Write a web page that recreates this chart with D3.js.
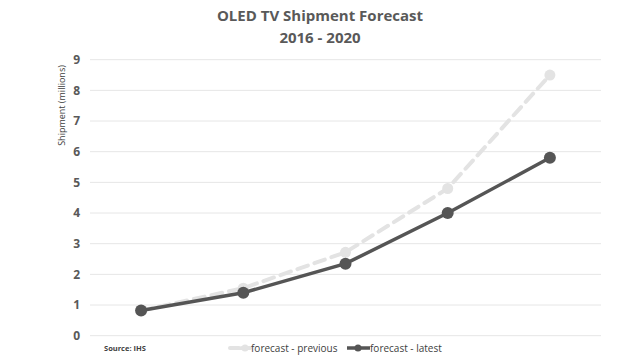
<!DOCTYPE html>
<html><head><meta charset="utf-8">
<script src="https://cdn.jsdelivr.net/npm/d3@7"></script>
<style>body{margin:0;background:#fff}svg{display:block}</style>
</head><body><svg id="c" width="640" height="360"></svg>
<script>
const years = ["2016","2017","2018","2019","2020"];
const previous = [0.82, 1.55, 2.72, 4.8, 8.5];
const latest = [0.82, 1.4, 2.35, 4.0, 5.8];
const yTicks = [0,1,2,3,4,5,6,7,8,9];

const svg = d3.select("#c");
const font = "'Open Sans', sans-serif";
const L = 90, R = 601, T = 59.7, B = 335.7;
const x = d3.scaleBand().domain(years).range([L, R]).padding(0);
const y = d3.scaleLinear().domain([0, 9]).range([B, T]);
const cx = d => x(d) + x.bandwidth()/2;

svg.append("g").selectAll("line").data(yTicks).join("line")
  .attr("x1", L).attr("x2", R).attr("y1", d => y(d)).attr("y2", d => y(d))
  .attr("stroke", "#e6e6e6").attr("stroke-width", 1);

const yAxis = d3.axisLeft(y).tickValues(yTicks).tickSize(0).tickPadding(10);
const ga = svg.append("g").attr("transform", `translate(${L},0)`).call(yAxis);
ga.select(".domain").remove();
ga.selectAll("text").attr("font-family", font).attr("font-size", 12).attr("font-weight", "bold").attr("fill", "#595959");

svg.append("text").attr("transform", `translate(65,${(63+148)/2}) rotate(-90)`)
  .attr("text-anchor", "middle").attr("font-family", font).attr("font-size", 9).attr("fill", "#404040")
  .text("Shipment (millions)");

svg.append("text").attr("x", 320).attr("y", 21).attr("text-anchor", "middle")
  .attr("font-family", font).attr("font-size", 15).attr("font-weight", "bold").attr("fill", "#595959")
  .text("OLED TV Shipment Forecast");
svg.append("text").attr("x", 320).attr("y", 43).attr("text-anchor", "middle")
  .attr("font-family", font).attr("font-size", 15).attr("font-weight", "bold").attr("fill", "#595959")
  .text("2016 - 2020");

const line = d3.line().x((d,i) => cx(years[i])).y(d => y(d));
const prevColor = "#e3e3e3", latColor = "#555555";

svg.append("path").datum(previous).attr("d", line).attr("fill", "none")
  .attr("stroke", prevColor).attr("stroke-width", 4).attr("stroke-dasharray", "11,7").attr("stroke-linecap","round");
svg.append("g").selectAll("circle").data(previous).join("circle")
  .attr("cx", (d,i) => cx(years[i])).attr("cy", d => y(d)).attr("r", 5.5).attr("fill", prevColor);

svg.append("path").datum(latest).attr("d", line).attr("fill", "none")
  .attr("stroke", latColor).attr("stroke-width", 3.5);
svg.append("g").selectAll("circle").data(latest).join("circle")
  .attr("cx", (d,i) => cx(years[i])).attr("cy", d => y(d)).attr("r", 6).attr("fill", latColor);

svg.append("text").attr("x", 104).attr("y", 351).attr("font-family", font).attr("font-size", 7.5)
  .attr("font-weight", "bold").attr("fill", "#404040").text("Source: IHS");

// legend
const lg = svg.append("g");
lg.append("line").attr("x1", 230).attr("x2", 250).attr("y1", 348).attr("y2", 348)
  .attr("stroke", prevColor).attr("stroke-width", 4).attr("stroke-dasharray", "9,3").attr("stroke-linecap","round");
lg.append("circle").attr("cx", 245).attr("cy", 348).attr("r", 3.5).attr("fill", prevColor);
lg.append("text").attr("x", 251).attr("y", 352).attr("font-family", font).attr("font-size", 10).attr("fill", "#404040").text("forecast - previous");
lg.append("line").attr("x1", 347).attr("x2", 370).attr("y1", 348).attr("y2", 348)
  .attr("stroke", latColor).attr("stroke-width", 3.5);
lg.append("circle").attr("cx", 358).attr("cy", 348).attr("r", 3.5).attr("fill", latColor);
lg.append("text").attr("x", 370).attr("y", 352).attr("font-family", font).attr("font-size", 10).attr("fill", "#404040").text("forecast - latest");
</script></body></html>
